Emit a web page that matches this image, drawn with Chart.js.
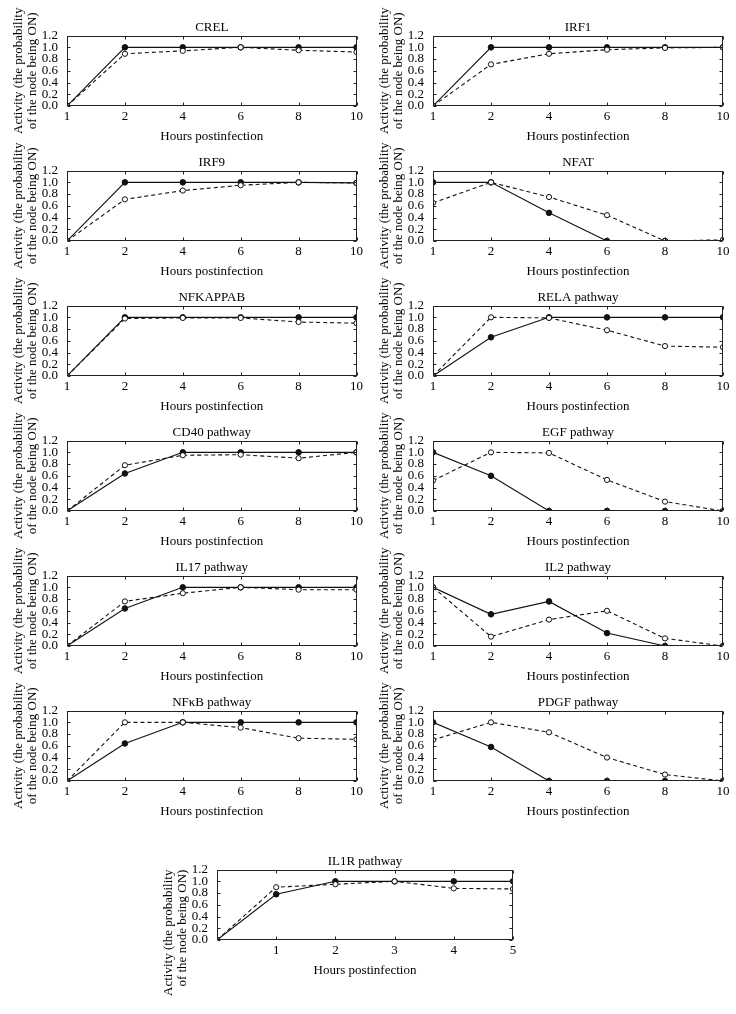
<!DOCTYPE html>
<html>
<head>
<meta charset="utf-8">
<script src="https://cdn.jsdelivr.net/npm/chart.js@4.4.1/dist/chart.umd.min.js"></script>
<style>
    html, body { margin: 0; padding: 0; background: #fff; }
    #wrap { position: relative; width: 736px; height: 1014px; overflow: hidden; }
    canvas { position: absolute; }
</style>
</head>
<body>
<div id="wrap"></div>
<script>
// x categories (hours postinfection)
const hours = ["1", "2", "4", "6", "8", "10"];
const il1rHours = [0, 1, 2, 3, 4, 5];

// solid line = filled dots, dashed line = open dots
const crelSolid = [0, 1.0, 1.0, 1.0, 1.0, 1.0];
const crelDashed = [0, 0.89, 0.94, 1.0, 0.95, 0.92];
const irf1Solid = [0, 1.0, 1.0, 1.0, 1.0, 1.0];
const irf1Dashed = [0, 0.71, 0.89, 0.96, 0.99, 1.0];
const irf9Solid = [0, 1.0, 1.0, 1.0, 1.0, 0.99];
const irf9Dashed = [0, 0.71, 0.86, 0.95, 1.0, 0.99];
const nfatSolid = [1.0, 1.0, 0.48, 0, 0, 0];
const nfatDashed = [0.65, 1.0, 0.75, 0.44, 0, 0.02];
const nfkappabSolid = [0, 1.0, 1.0, 1.0, 1.0, 1.0];
const nfkappabDashed = [0, 0.98, 0.99, 0.99, 0.92, 0.9];
const relaSolid = [0, 0.66, 1.0, 1.0, 1.0, 1.0];
const relaDashed = [0, 1.0, 0.99, 0.78, 0.51, 0.49];
const cd40Solid = [0, 0.64, 1.0, 1.0, 1.0, 1.0];
const cd40Dashed = [0, 0.78, 0.95, 0.96, 0.9, 1.0];
const egfSolid = [1.0, 0.6, 0, 0, 0, 0];
const egfDashed = [0.52, 1.0, 0.99, 0.53, 0.16, 0];
const il17Solid = [0, 0.64, 1.0, 1.0, 1.0, 1.0];
const il17Dashed = [0, 0.76, 0.9, 1.0, 0.96, 0.96];
const il2Solid = [1.0, 0.54, 0.76, 0.22, 0, 0];
const il2Dashed = [1.0, 0.16, 0.45, 0.6, 0.13, 0];
const nfkbSolid = [0, 0.64, 1.0, 1.0, 1.0, 1.0];
const nfkbDashed = [0, 1.0, 1.0, 0.91, 0.73, 0.71];
const pdgfSolid = [1.0, 0.58, 0, 0, 0, 0];
const pdgfDashed = [0.7, 1.0, 0.83, 0.4, 0.11, 0];
const il1rSolid = [0, 0.78, 1.0, 1.0, 1.0, 1.0];
const il1rDashed = [0, 0.9, 0.95, 1.0, 0.88, 0.87];

const yTitle = ["Activity (the probability", "of the node being ON)"];
const xTitle = "Hours postinfection";

const panels = [
    ["CREL", crelSolid, crelDashed],
    ["IRF1", irf1Solid, irf1Dashed],
    ["IRF9", irf9Solid, irf9Dashed],
    ["NFAT", nfatSolid, nfatDashed],
    ["NFKAPPAB", nfkappabSolid, nfkappabDashed],
    ["RELA pathway", relaSolid, relaDashed],
    ["CD40 pathway", cd40Solid, cd40Dashed],
    ["EGF pathway", egfSolid, egfDashed],
    ["IL17 pathway", il17Solid, il17Dashed],
    ["IL2 pathway", il2Solid, il2Dashed],
    ["NFκB pathway", nfkbSolid, nfkbDashed],
    ["PDGF pathway", pdgfSolid, pdgfDashed],
];

Chart.defaults.font.family = "'Liberation Serif', 'DejaVu Serif', serif";
Chart.defaults.font.size = 13;
Chart.defaults.color = "#000";

// frame around the plot + small inward ticks
const boxPlugin = {
    id: "box",
    afterDatasetsDraw(chart) {
        const { ctx, chartArea: a, scales } = chart;
        const l = Math.round(a.left) + 0.5, r = Math.round(a.right) - 0.5;
        const t = Math.round(a.top) + 0.5, b = Math.round(a.bottom) - 0.5;
        ctx.save();
        ctx.strokeStyle = "#222";
        ctx.lineWidth = 1;
        ctx.strokeRect(l, t, r - l, b - t);
        ctx.beginPath();
        scales.y.ticks.forEach((tk, i) => {
            const py = Math.round(scales.y.getPixelForTick(i)) + 0.5;
            ctx.moveTo(l, py); ctx.lineTo(l + 3, py);
            ctx.moveTo(r, py); ctx.lineTo(r - 3, py);
        });
        scales.x.ticks.forEach((tk, i) => {
            const px = Math.round(scales.x.getPixelForTick(i)) + 0.5;
            ctx.moveTo(px, b); ctx.lineTo(px, b - 3);
            ctx.moveTo(px, t); ctx.lineTo(px, t + 3);
        });
        ctx.stroke();
        ctx.restore();
    },
};

function makeDatasets(solid, dashed, xs) {
    const pts = (arr) => (xs ? arr.map((v, i) => ({ x: xs[i], y: v })) : arr);
    return [
        {
            data: pts(dashed),
            borderColor: "#111",
            borderWidth: 1.1,
            borderDash: [4, 3],
            pointRadius: 2.6,
            pointBackgroundColor: "#fff",
            pointBorderColor: "#111",
            pointBorderWidth: 1,
            tension: 0,
            clip: 0,
        },
        {
            data: pts(solid),
            borderColor: "#111",
            borderWidth: 1.1,
            pointRadius: 2.8,
            pointBackgroundColor: "#111",
            pointBorderColor: "#111",
            pointBorderWidth: 1,
            tension: 0,
            clip: 0,
        },
    ];
}

function drawPanel(title, solid, dashed, left, top, width, il1r) {
    const canvas = document.createElement("canvas");
    canvas.width = width;
    canvas.height = il1r ? 180 : 150;
    canvas.style.left = left + "px";
    canvas.style.top = top + "px";
    document.getElementById("wrap").appendChild(canvas);

    const xScale = il1r
        ? {
              type: "linear",
              min: 0,
              max: 5,
              ticks: { stepSize: 1, padding: 3, callback: (v) => (v === 0 ? "" : v) },
          }
        : { type: "category", offset: false, ticks: { padding: 3, autoSkip: false, maxRotation: 0 } };

    // top axis only carries the panel title, centred over the plot
    const topScale = il1r
        ? { type: "linear", min: 0, max: 5 }
        : { type: "category", labels: hours, offset: false };

    new Chart(canvas, {
        type: "line",
        data: {
            labels: il1r ? undefined : hours,
            datasets: makeDatasets(solid, dashed, il1r ? il1rHours : null),
        },
        options: {
            responsive: false,
            animation: false,
            devicePixelRatio: 1,
            layout: {
                padding: {
                    top: 20,
                    left: 0,
                    right: width === 370 ? 13 : 8,
                    bottom: il1r ? 30 : 0,
                },
            },
            plugins: {
                legend: { display: false },
                tooltip: { enabled: false },
            },
            scales: {
                x: Object.assign(xScale, {
                    grid: { display: false, drawTicks: false },
                    border: { display: false },
                    title: {
                        display: true,
                        text: xTitle,
                        font: { size: 13 },
                        padding: { top: 0, bottom: 6 },
                    },
                    afterFit: (s) => { s.height = 44; },
                }),
                xTop: Object.assign(topScale, {
                    position: "top",
                    grid: { display: false, drawTicks: false },
                    border: { display: false },
                    ticks: { display: false },
                    title: {
                        display: true,
                        text: title,
                        font: { size: 13 },
                        padding: 0,
                    },
                    afterFit: (s) => { s.height = 15.6; },
                }),
                y: {
                    min: 0,
                    max: 1.2,
                    grid: { display: false, drawTicks: false },
                    border: { display: false },
                    ticks: {
                        stepSize: 0.2,
                        padding: 9,
                        autoSkip: false,
                        callback: (v) => v.toFixed(1),
                    },
                    title: {
                        display: true,
                        text: yTitle,
                        align: il1r ? "end" : "center",
                        font: { size: 13, lineHeight: 1.1 },
                        padding: { top: 11, bottom: 0 },
                    },
                    afterFit: (s) => { s.width = 67; },
                },
            },
        },
        plugins: [boxPlugin],
    });
}

panels.forEach((p, i) => {
    const col = i % 2;
    const row = Math.floor(i / 2);
    drawPanel(p[0], p[1], p[2], col === 0 ? 0 : 366, row * 135, col === 0 ? 366 : 370, false);
});
drawPanel("IL1R pathway", il1rSolid, il1rDashed, 150, 834, 371, true);
</script>
</body>
</html>
